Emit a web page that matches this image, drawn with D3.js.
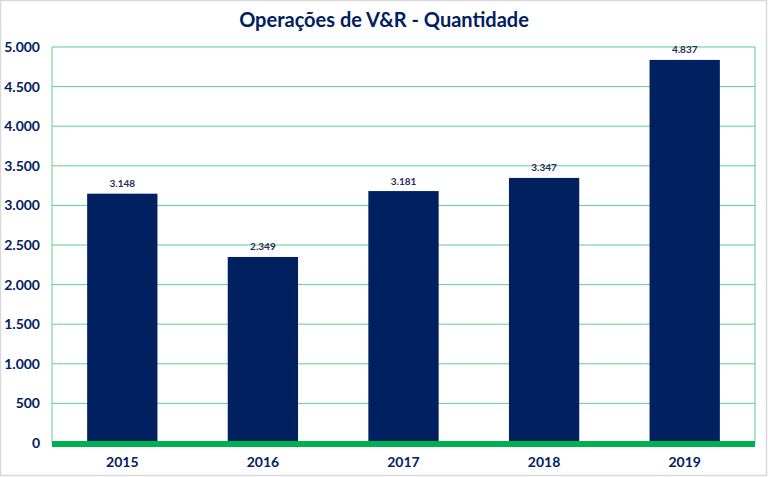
<!DOCTYPE html>
<html><head><meta charset="utf-8">
<script src="https://cdn.jsdelivr.net/npm/d3@7"></script>
<style>body{margin:0;background:#fff}svg{display:block}</style>
</head><body>
<script>
const years = ["2015","2016","2017","2018","2019"];
const values = [3148, 2349, 3181, 3347, 4837];
const yTicks = [0,500,1000,1500,2000,2500,3000,3500,4000,4500,5000];
const title = "Operações de V&R - Quantidade";

const W = 768, H = 477;
const m = {left:52, right:13, top:47, bottom:34};
const font = "Lato, 'Open Sans', sans-serif";
const navy = "#002060";
const svg = d3.select("body").append("svg").attr("width",W).attr("height",H);

svg.append("rect").attr("x",0.5).attr("y",0.5).attr("width",W-2).attr("height",H-2)
  .attr("fill","#fff").attr("stroke","#d9d9d9").attr("stroke-width",1.5);

const x = d3.scaleBand().domain(years).range([m.left, W-m.right]).paddingInner(0.5).paddingOuter(0.25);
const y = d3.scaleLinear().domain([0,5000]).range([H-m.bottom, m.top]);
const fmt = d3.formatLocale({decimal:",", thousands:".", grouping:[3], currency:["",""]}).format(",d");

const g = svg.append("g");
g.selectAll("line.grid").data(yTicks).join("line")
  .attr("x1",m.left).attr("x2",W-m.right)
  .attr("y1",d=>y(d)).attr("y2",d=>y(d))
  .attr("stroke","#5fcf8f").attr("stroke-width",1);
g.append("line").attr("x1",m.left).attr("x2",m.left).attr("y1",m.top).attr("y2",y(0))
  .attr("stroke","#5fcf8f");
g.append("line").attr("x1",W-m.right).attr("x2",W-m.right).attr("y1",m.top).attr("y2",y(0))
  .attr("stroke","#5fcf8f");

g.selectAll("rect.bar").data(values).join("rect")
  .attr("x",(d,i)=>x(years[i])).attr("width",x.bandwidth())
  .attr("y",d=>y(d)).attr("height",d=>y(0)-y(d)).attr("fill",navy);

g.selectAll("text.val").data(values).join("text")
  .attr("x",(d,i)=>x(years[i])+x.bandwidth()/2).attr("y",d=>y(d)-6.5)
  .attr("text-anchor","middle").attr("font-family",font).attr("font-weight","bold")
  .attr("font-size",10).attr("fill","#1f2d5a").text(d=>fmt(d));

g.append("line").attr("x1",m.left).attr("x2",W-m.right).attr("y1",y(0)+1).attr("y2",y(0)+1)
  .attr("stroke","#00b050").attr("stroke-width",6);

g.selectAll("text.yt").data(yTicks).join("text")
  .attr("x",m.left-12).attr("y",d=>y(d)).attr("dy","0.35em")
  .attr("text-anchor","end").attr("font-family",font).attr("font-weight","bold")
  .attr("font-size",14).attr("fill",navy).text(d=>fmt(d));

g.selectAll("text.xt").data(years).join("text")
  .attr("x",d=>x(d)+x.bandwidth()/2).attr("y",H-m.bottom+19).attr("dy","0.35em")
  .attr("text-anchor","middle").attr("font-family",font).attr("font-weight","bold")
  .attr("font-size",14).attr("fill",navy).text(d=>d);

svg.append("text").attr("x",384).attr("y",20).attr("dy","0.35em")
  .attr("text-anchor","middle").attr("font-family",font).attr("font-weight","bold")
  .attr("font-size",20).attr("fill",navy).text(title);
</script>
</body></html>
